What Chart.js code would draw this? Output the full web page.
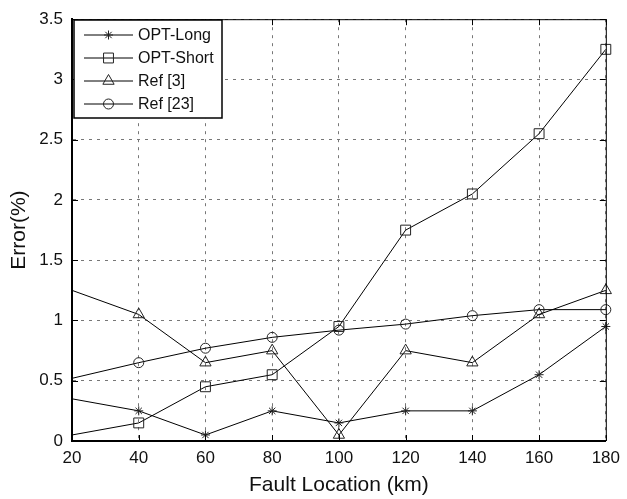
<!DOCTYPE html>
<html>
<head>
<meta charset="utf-8">
<script src="https://cdn.jsdelivr.net/npm/chart.js@4/dist/chart.umd.min.js"></script>
<style>
  body { margin: 0; background: #fff; }
  #errorChart { display: block; }
</style>
</head>
<body>
<canvas id="errorChart" width="627" height="499"></canvas>
<script>
// Fault locations (km) and error values
var faultLocations = [20, 40, 60, 80, 100, 120, 140, 160, 180];
var optLong = [0.35, 0.25, 0.05, 0.25, 0.15, 0.25, 0.25, 0.55, 0.95];
var optShort = [0.05, 0.15, 0.45, 0.55, 0.95, 1.75, 2.05, 2.55, 3.25];
var ref3 = [1.25, 1.05, 0.65, 0.75, 0.05, 0.75, 0.65, 1.05, 1.25];
var ref23 = [0.52, 0.65, 0.77, 0.86, 0.92, 0.97, 1.04, 1.09, 1.09];

var seriesNames = ["OPT-Long", "OPT-Short", "Ref [3]", "Ref [23]"];
var xTicks = [20, 40, 60, 80, 100, 120, 140, 160, 180];
var yTicks = [0, 0.5, 1, 1.5, 2, 2.5, 3, 3.5];

var fontFamily = "'Liberation Sans', Arial, Helvetica, sans-serif";

// Build {x, y} points from the arrays
function toPoints(values) {
    return faultLocations.map(function (x, i) {
        return { x: x, y: values[i] };
    });
}

function makeDataset(label, values, style, radius) {
    return {
        label: label,
        data: toPoints(values),
        borderColor: "#000",
        borderWidth: 1,
        backgroundColor: "rgba(0,0,0,0)",
        pointStyle: style,
        markerRadius: radius,
        pointBorderColor: "#222",
        pointBackgroundColor: "rgba(0,0,0,0)",
        pointBorderWidth: 1,
        // no marker on the first sample (matches figure)
        pointRadius: function (ctx) { return ctx.dataIndex === 0 ? 0 : radius; },
        pointHoverRadius: function (ctx) { return ctx.dataIndex === 0 ? 0 : radius; },
        tension: 0,
        clip: false
    };
}

var datasets = [
    makeDataset(seriesNames[0], optLong, "star", 4.5),
    makeDataset(seriesNames[1], optShort, "rect", 7),
    makeDataset(seriesNames[2], ref3, "triangle", 6.5),
    makeDataset(seriesNames[3], ref23, "circle", 5)
];

// Draws the frame (thin top/right edges), inward tick marks and the boxed legend
var framePlugin = {
    id: "frame",
    afterDraw: function (chart) {
        var ctx = chart.ctx;
        var area = chart.chartArea;
        var xs = chart.scales.x;
        var ys = chart.scales.y;

        ctx.save();
        ctx.strokeStyle = "#000";
        ctx.lineWidth = 1;
        ctx.beginPath();
        ctx.moveTo(area.left, area.top + 0.5);
        ctx.lineTo(area.right + 0.5, area.top + 0.5);
        ctx.lineTo(area.right + 0.5, area.bottom);
        ctx.stroke();

        // inward ticks
        ctx.beginPath();
        xTicks.forEach(function (v) {
            var px = Math.round(xs.getPixelForValue(v)) + 0.5;
            ctx.moveTo(px, area.bottom);
            ctx.lineTo(px, area.bottom - 6);
            ctx.moveTo(px, area.top);
            ctx.lineTo(px, area.top + 6);
        });
        yTicks.forEach(function (v) {
            var py = Math.round(ys.getPixelForValue(v)) + 0.5;
            ctx.moveTo(area.left, py);
            ctx.lineTo(area.left + 6, py);
            ctx.moveTo(area.right, py);
            ctx.lineTo(area.right - 6, py);
        });
        ctx.stroke();

        // legend box
        var bx = 74, by = 20, bw = 148, bh = 98;
        ctx.fillStyle = "#fff";
        ctx.fillRect(bx, by, bw, bh);
        ctx.lineWidth = 1.5;
        ctx.strokeStyle = "#000";
        ctx.strokeRect(bx, by, bw, bh);

        ctx.font = "16px " + fontFamily;
        ctx.textBaseline = "middle";
        ctx.textAlign = "left";
        chart.data.datasets.forEach(function (ds, i) {
            var cy = 35 + i * 23;
            ctx.strokeStyle = "#000";
            ctx.lineWidth = 1;
            ctx.beginPath();
            ctx.moveTo(84, cy);
            ctx.lineTo(133, cy);
            ctx.stroke();
            ctx.strokeStyle = "#222";
            ctx.fillStyle = "rgba(0,0,0,0)";
            Chart.helpers.drawPoint(ctx, {
                pointStyle: ds.pointStyle,
                radius: ds.markerRadius,
                rotation: 0,
                borderWidth: 1
            }, 108.5, cy);
            ctx.fillStyle = "#111";
            ctx.fillText(ds.label, 138, cy + 1);
        });
        ctx.restore();
    }
};

var errorChart = new Chart(document.getElementById("errorChart").getContext("2d"), {
    type: "line",
    data: { datasets: datasets },
    options: {
        responsive: false,
        animation: false,
        devicePixelRatio: 1,
        layout: { padding: { top: 18, right: 16, left: 0, bottom: 0 } },
        plugins: {
            legend: { display: false },
            tooltip: { enabled: false }
        },
        scales: {
            x: {
                type: "linear",
                min: 20,
                max: 180,
                afterBuildTicks: function (scale) {
                    scale.ticks = xTicks.map(function (v) { return { value: v }; });
                },
                afterFit: function (scale) { scale.height = 58; },
                ticks: {
                    color: "#111",
                    padding: 7,
                    font: { family: fontFamily, size: 17 },
                    callback: function (value) { return String(value); }
                },
                grid: {
                    color: "#777",
                    lineWidth: 1,
                    drawTicks: false
                },
                border: { display: true, color: "#000", width: 2, dash: [3, 5] },
                title: {
                    display: true,
                    text: "Fault Location (km)",
                    color: "#111",
                    font: { family: fontFamily, size: 21 },
                    padding: { top: 0, bottom: 1 }
                }
            },
            y: {
                type: "linear",
                min: 0,
                max: 3.5,
                afterBuildTicks: function (scale) {
                    scale.ticks = yTicks.map(function (v) { return { value: v }; });
                },
                afterFit: function (scale) { scale.width = 72; },
                ticks: {
                    color: "#111",
                    padding: 9,
                    font: { family: fontFamily, size: 17 },
                    callback: function (value) { return String(value); }
                },
                grid: {
                    color: "#777",
                    lineWidth: 1,
                    drawTicks: false
                },
                border: { display: true, color: "#000", width: 2, dash: [3, 5] },
                title: {
                    display: true,
                    text: "Error(%)",
                    color: "#111",
                    font: { family: fontFamily, size: 21 },
                    padding: { top: 7, bottom: 0 }
                }
            }
        }
    },
    plugins: [framePlugin]
});
</script>
</body>
</html>
